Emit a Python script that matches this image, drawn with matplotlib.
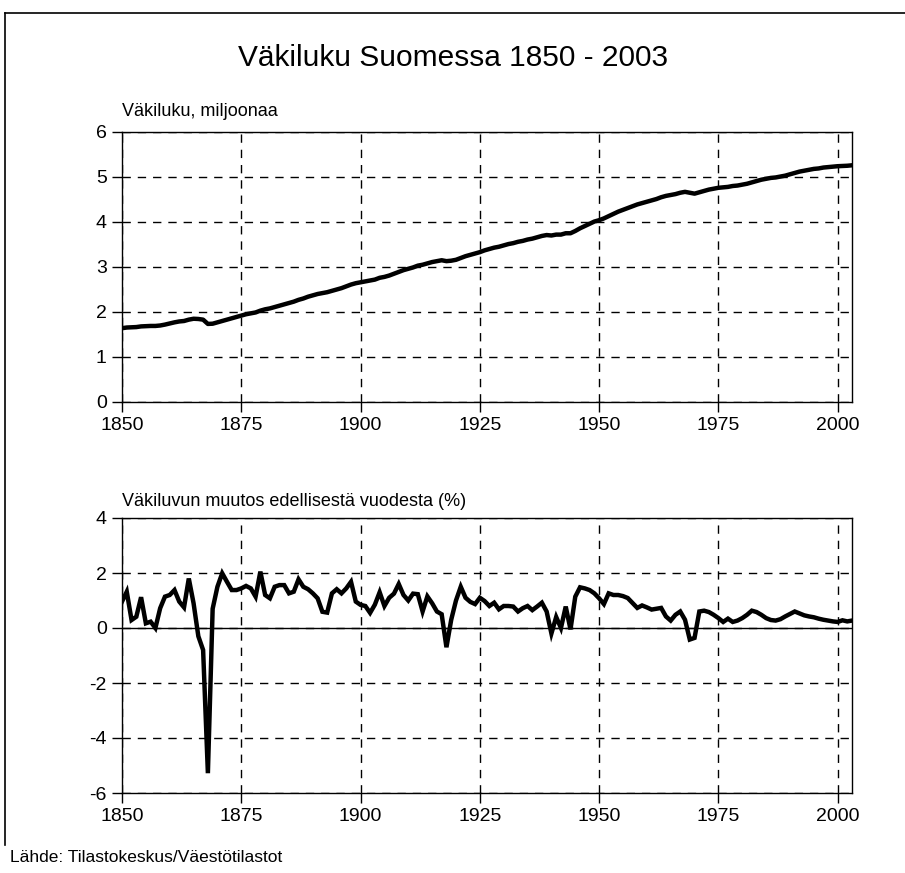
import matplotlib
matplotlib.use("Agg")
import matplotlib.pyplot as plt
from matplotlib.lines import Line2D
import numpy as np

plt.rcParams['font.family'] = ['Liberation Sans', 'DejaVu Sans']
plt.rcParams['axes.unicode_minus'] = False

years = list(range(1850, 2004))

# Population, millions
population = [
    1.64, 1.655, 1.66, 1.665, 1.68, 1.685, 1.69, 1.69, 1.70, 1.72,      # 1850-59
    1.745, 1.77, 1.79, 1.80, 1.83, 1.85, 1.845, 1.83, 1.735, 1.74,      # 1860-69
    1.77, 1.80, 1.83, 1.86, 1.89, 1.92, 1.95, 1.97, 1.99, 2.03,         # 1870-79
    2.06, 2.08, 2.11, 2.14, 2.17, 2.20, 2.23, 2.27, 2.30, 2.34,         # 1880-89
    2.37, 2.40, 2.42, 2.44, 2.47, 2.50, 2.53, 2.57, 2.61, 2.64,         # 1890-99
    2.66, 2.68, 2.70, 2.72, 2.76, 2.78, 2.81, 2.85, 2.89, 2.93,         # 1900-09
    2.96, 2.99, 3.03, 3.05, 3.08, 3.11, 3.13, 3.15, 3.13, 3.14,         # 1910-19
    3.16, 3.20, 3.24, 3.27, 3.30, 3.33, 3.37, 3.40, 3.43, 3.45,         # 1920-29
    3.48, 3.51, 3.53, 3.56, 3.58, 3.61, 3.63, 3.66, 3.69, 3.71,         # 1930-39
    3.70, 3.72, 3.72, 3.75, 3.75, 3.80, 3.86, 3.91, 3.96, 4.01,         # 1940-49
    4.04, 4.08, 4.13, 4.18, 4.23, 4.27, 4.31, 4.35, 4.39, 4.42,         # 1950-59
    4.45, 4.48, 4.51, 4.55, 4.58, 4.60, 4.62, 4.65, 4.67, 4.65,         # 1960-69
    4.63, 4.66, 4.69, 4.72, 4.74, 4.76, 4.77, 4.78, 4.80, 4.81,         # 1970-79
    4.83, 4.85, 4.88, 4.91, 4.94, 4.96, 4.98, 4.99, 5.01, 5.03,         # 1980-89
    5.06, 5.09, 5.12, 5.14, 5.16, 5.18, 5.19, 5.21, 5.22, 5.23,         # 1990-99
    5.24, 5.245, 5.25, 5.26,                                            # 2000-03
]

# Annual change, %
change = [
    0.96, 1.32, 0.29, 0.41, 1.12, 0.17, 0.23, 0.0, 0.72, 1.14,          # 1850-59
    1.2, 1.38, 0.96, 0.75, 1.8, 0.9, -0.3, -0.8, -5.28, 0.7,            # 1860-69
    1.5, 1.99, 1.68, 1.38, 1.38, 1.44, 1.53, 1.44, 1.14, 2.05,          # 1870-79
    1.2, 1.08, 1.5, 1.56, 1.56, 1.26, 1.32, 1.77, 1.5, 1.41,            # 1880-89
    1.26, 1.08, 0.59, 0.56, 1.26, 1.41, 1.26, 1.44, 1.68, 0.96,         # 1890-99
    0.84, 0.8, 0.55, 0.85, 1.3, 0.8, 1.1, 1.25, 1.6, 1.2,               # 1900-09
    1.0, 1.25, 1.23, 0.6, 1.15, 0.9, 0.6, 0.5, -0.7, 0.3,               # 1910-19
    1.0, 1.5, 1.1, 0.95, 0.87, 1.1, 0.98, 0.8, 0.92, 0.68,              # 1920-29
    0.8, 0.8, 0.78, 0.6, 0.72, 0.8, 0.65, 0.78, 0.92, 0.6,              # 1930-39
    -0.2, 0.4, 0.0, 0.78, -0.05, 1.14, 1.48, 1.44, 1.38, 1.26,          # 1940-49
    1.08, 0.87, 1.26, 1.2, 1.2, 1.16, 1.09, 0.91, 0.73, 0.82,           # 1950-59
    0.75, 0.67, 0.7, 0.73, 0.42, 0.27, 0.48, 0.6, 0.3, -0.42,           # 1960-69
    -0.36, 0.6, 0.63, 0.58, 0.48, 0.36, 0.22, 0.34, 0.22, 0.27,         # 1970-79
    0.36, 0.48, 0.63, 0.58, 0.48, 0.36, 0.29, 0.27, 0.32, 0.42,         # 1980-89
    0.51, 0.6, 0.53, 0.46, 0.42, 0.39, 0.34, 0.3, 0.27, 0.24,           # 1990-99
    0.22, 0.28, 0.24, 0.27,                                             # 2000-03
]

x_ticks = [1850, 1875, 1900, 1925, 1950, 1975, 2000]
top_yticks = [0, 1, 2, 3, 4, 5, 6]
bot_yticks = [-6, -4, -2, 0, 2, 4]

title = "Väkiluku Suomessa 1850 - 2003"
top_label = "Väkiluku, miljoonaa"
bot_label = "Väkiluvun muutos edellisestä vuodesta (%)"
source = "Lähde: Tilastokeskus/Väestötilastot"

W, H = 905, 873
fig = plt.figure(figsize=(W / 100, H / 100), dpi=100)


def frac_rect(left, top, right, bottom):
    return [left / W, 1 - bottom / H, (right - left) / W, (bottom - top) / H]


ax1 = fig.add_axes(frac_rect(122, 132, 852, 402))
ax2 = fig.add_axes(frac_rect(122, 518, 852, 793))

for ax, yt, ylim in [(ax1, top_yticks, (0, 6)), (ax2, bot_yticks, (-6, 4))]:
    ax.set_xlim(1850, 2003)
    ax.set_ylim(*ylim)
    ax.set_xticks(x_ticks)
    ax.set_yticks(yt)
    ax.grid(True, color='black', linestyle=(0, (6, 5)), linewidth=1.0)
    ax.tick_params(direction='out', length=7, width=1, labelsize=14,
                   colors='black', pad=4)
    for s in ax.spines.values():
        s.set_linewidth(1.0)
        s.set_color('black')
    ax.set_axisbelow(True)

ax1.plot(years, population, color='black', linewidth=3.2, solid_joinstyle='round')
ax2.axhline(0, color='black', linewidth=1.0)
ax2.plot(years, change, color='black', linewidth=3.2, solid_joinstyle='miter')

fig.text(453 / W, 1 - 58 / H, title, ha='center', va='center', fontsize=21.5)
fig.text(122 / W, 1 - 112 / H, top_label, ha='left', va='center', fontsize=13)
fig.text(122 / W, 1 - 502 / H, bot_label, ha='left', va='center', fontsize=13)
fig.text(10 / W, 1 - 857 / H, source, ha='left', va='center', fontsize=12.5)

# figure frame (top and left edges)
fig.add_artist(Line2D([5 / W, 1.0], [1 - 13 / H, 1 - 13 / H], color='black', linewidth=1.2))
fig.add_artist(Line2D([5 / W, 5 / W], [1 - 13 / H, 1 - 845 / H], color='black', linewidth=1.2))

fig.savefig("out.png", dpi=100)
